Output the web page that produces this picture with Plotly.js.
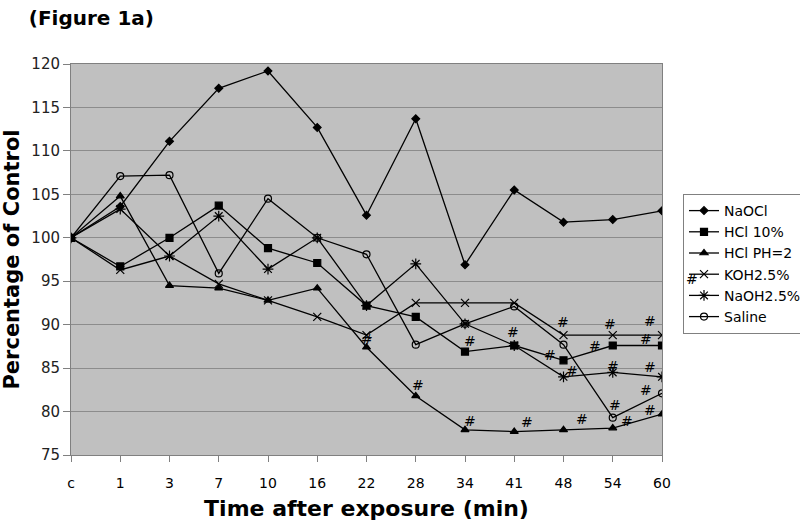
<!DOCTYPE html>
<html>
<head>
<meta charset="utf-8">
<script src="https://cdn.plot.ly/plotly-3.0.1.min.js"></script>
<style>html,body{margin:0;padding:0;background:#fff;}#chart{width:800px;height:522px;}</style>
</head>
<body>
<div id="chart"></div>
<script>
// Categories (time after exposure)
const categories = ['c','1','3','7','10','16','22','28','34','41','48','54','60'];

// Series values (% of control)
const naocl  = [100, 103.6, 111.1, 117.2, 119.2, 112.7, 102.6, 113.7, 96.9, 105.5, 101.8, 102.1, 103.1];
const hcl10  = [100, 96.7, 100.0, 103.7, 98.8, 97.1, 92.2, 90.9, 86.9, 87.6, 85.9, 87.6, 87.6];
const hclph2 = [100, 104.8, 94.5, 94.2, 92.8, 94.2, 87.4, 81.8, 77.9, 77.7, 77.9, 78.1, 79.7];
const koh    = [100, 96.3, 97.9, 94.7, 92.8, 90.9, 88.8, 92.5, 92.5, 92.5, 88.8, 88.8, 88.8];
const naoh   = [100, 103.3, 97.9, 102.5, 96.4, 100.0, 92.2, 97.0, 90.1, 87.6, 84.0, 84.5, 84.0];
const saline = [100, 107.1, 107.2, 95.9, 104.5, 100.0, 98.1, 87.7, 90.1, 92.1, 87.7, 79.3, 82.1];

const seriesNames = ['NaOCl', 'HCl 10%', 'HCl PH=2', 'KOH2.5%', 'NaOH2.5%', 'Saline'];

// Significance marks "#" (category index, value)
const sigX = [6.00, 7.05, 8.10, 8.10, 8.97, 9.25, 9.98, 9.73, 10.17, 10.37, 10.94, 10.64, 11.01, 11.05, 11.28, 11.76, 11.68, 11.76, 11.68, 11.76];
const sigY = [88.3, 83.1, 88.1, 78.9, 89.2, 78.8, 90.3, 86.5, 84.7, 79.1, 90.1, 87.6, 85.3, 80.8, 78.9, 90.4, 88.3, 85.1, 82.5, 80.2];

const yTicks = [75, 80, 85, 90, 95, 100, 105, 110, 115, 120];

const values = [naocl, hcl10, hclph2, koh, naoh, saline];
const symbols = ['diamond', 'square', 'triangle-up', 'x-thin-open', 'asterisk-open', 'circle-open'];
const sizes = [6, 7, 7, 8, 9, 7];

const traces = values.map((v, i) => ({
  type: 'scatter',
  mode: 'lines+markers',
  x: categories,
  y: v,
  name: seriesNames[i],
  line: {color: '#000', width: 1.3},
  marker: {symbol: symbols[i], size: sizes[i], color: '#000', line: {color: '#000', width: 1.2}}
}));

const baseFont = 'DejaVu Sans, Verdana, sans-serif';

const plotL = 71, plotR = 662, plotT = 64, plotB = 455;
const toPaperX = px => (px - plotL) / (plotR - plotL);
const toPaperY = py => (plotB - py) / (plotB - plotT);

const annotations = sigX.map((x, i) => ({
  x: x, y: sigY[i], xref: 'x', yref: 'y', text: '#', showarrow: false,
  font: {family: baseFont, size: 14, color: '#000'}
}));
annotations.push({
  x: toPaperX(684), y: toPaperY(279), xref: 'paper', yref: 'paper', xanchor: 'left',
  text: '#', showarrow: false,
  font: {family: baseFont, size: 14, color: '#000'}
});

const layout = {
  width: 800, height: 522,
  margin: {l: 71, r: 138, t: 64, b: 67},
  paper_bgcolor: '#fff',
  plot_bgcolor: '#c0c0c0',
  showlegend: true,
  title: {
    text: '<b>(Figure 1a)</b>',
    xref: 'container', yref: 'container',
    x: 0.036, xanchor: 'left', y: 0.965, yanchor: 'middle',
    font: {family: baseFont, size: 20, color: '#000'}
  },
  xaxis: {
    type: 'category',
    range: [0, 12],
    showgrid: false,
    zeroline: false,
    showline: true, linecolor: '#808080', linewidth: 1, mirror: true,
    ticks: 'outside', ticklen: 6, tickcolor: '#808080',
    ticklabelstandoff: 9,
    tickfont: {family: baseFont, size: 14, color: '#000'},
    title: {text: '<b>Time after exposure (min)</b>', standoff: 10,
            font: {family: baseFont, size: 22, color: '#000'}}
  },
  yaxis: {
    range: [75, 120],
    tickvals: yTicks,
    ticktext: yTicks.map(String),
    showgrid: true, gridcolor: '#8c8c8c', gridwidth: 1,
    zeroline: false,
    showline: true, linecolor: '#808080', linewidth: 1, mirror: true,
    ticks: 'outside', ticklen: 7, tickcolor: '#808080',
    tickfont: {family: baseFont, size: 15, color: '#222'},
    title: {text: '<b>Percentage of Control</b>', standoff: 14,
            font: {family: baseFont, size: 21, color: '#000'}}
  },
  legend: {
    xref: 'container', yref: 'container',
    x: 683 / 800, xanchor: 'left', y: 1 - 194 / 522, yanchor: 'top',
    bgcolor: 'rgba(0,0,0,0)', bordercolor: '#808080', borderwidth: 1,
    font: {family: baseFont, size: 14, color: '#000'},
    itemwidth: 30, tracegroupgap: 0
  },
  shapes: [{
    type: 'rect', xref: 'paper', yref: 'paper', layer: 'below',
    x0: toPaperX(684), x1: toPaperX(796), y0: toPaperY(330), y1: toPaperY(195),
    fillcolor: '#fff', line: {width: 0}
  }],
  annotations: annotations
};

Plotly.newPlot('chart', traces, layout, {displayModeBar: false, staticPlot: true});
</script>
</body>
</html>
